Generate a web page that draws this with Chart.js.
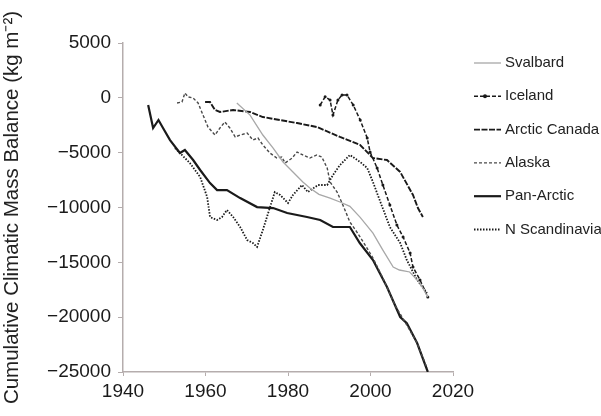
<!DOCTYPE html>
<html>
<head>
<meta charset="utf-8">
<script src="https://cdn.jsdelivr.net/npm/chart.js@4/dist/chart.umd.min.js"></script>
<style>
  html, body { margin: 0; padding: 0; background: #fff; }
  #wrap { width: 601px; height: 416px; }
</style>
</head>
<body>
<div id="wrap"><canvas id="massChart" width="601" height="416"></canvas></div>
<script>
// values (year, cumulative balance in kg m-2)
var seriesNames = ['Svalbard', 'Iceland', 'Arctic Canada', 'Alaska', 'Pan-Arctic', 'N Scandinavia'];
var xTicks = [1940, 1960, 1980, 2000, 2020];
var yTicks = [5000, 0, -5000, -10000, -15000, -20000, -25000];

var svalbardYears = [1967.6, 1970.8, 1973.9, 1976.4, 1978.8, 1981.2, 1983.6, 1985.3, 1987.5, 1990.2, 1992.6, 1995, 1997.5, 2000.6, 2003, 2005.5, 2007, 2009.5, 2012, 2013.9];
var svalbardValues = [-470, -1570, -3390, -4580, -5850, -6760, -7680, -8220, -8800, -9140, -9500, -9900, -10900, -12330, -13880, -15430, -15700, -15880, -16890, -18160];

var icelandYears = [1987.8, 1989, 1990.2, 1990.9, 1992.1, 1993.1, 1994.3, 1995.8, 1997.5, 1999.2, 1999.9, 2001.6, 2003, 2004.7, 2006.4, 2007.9, 2009.6, 2010.3, 2012, 2013.9];
var icelandValues = [-650, 90, -200, -1570, -200, 260, 260, -650, -2020, -3660, -4940, -6400, -7950, -9770, -11600, -12690, -14150, -15430, -16610, -18160];

var canadaYears = [1959.9, 1961.1, 1962.3, 1963.5, 1966.7, 1970.8, 1973.9, 1982.2, 1987, 1992.6, 1997.5, 2000.6, 2004, 2007.2, 2010.3, 2011.5, 2012.7];
var canadaValues = [-380, -380, -1110, -1290, -1110, -1290, -1750, -2300, -2660, -3570, -4300, -5490, -5670, -6760, -8860, -10050, -10870];

var alaskaYears = [1953.1, 1954.3, 1955, 1955.8, 1957, 1958.2, 1959.4, 1960.6, 1962.3, 1963.5, 1964.7, 1965.9, 1967.2, 1968.4, 1970.1, 1971.5, 1972.7, 1973.9, 1975.6, 1977.3, 1978.5, 1979.3, 1981, 1982.2, 1983.6, 1985.3, 1987, 1988.2, 1989.5, 1990.2, 1991.9, 1993.3, 1995, 1996.7, 1998.7, 2000.6, 2003, 2005.9, 2008.8, 2011.3, 2013.7];
var alaskaValues = [-470, -380, 440, 80, -20, -470, -1570, -2660, -3390, -2750, -2200, -2750, -3570, -3390, -3210, -3850, -3660, -4300, -5030, -5490, -5400, -5940, -5490, -4940, -5210, -5490, -5210, -5400, -6400, -7680, -8590, -9770, -11320, -12240, -13420, -14610, -16430, -18890, -20720, -22360, -24640];

var panArcticYears = [1946.1, 1947.3, 1948.6, 1949.7, 1951.4, 1953.8, 1955, 1957, 1958.7, 1961.1, 1962.8, 1965.2, 1968.4, 1972.5, 1976.4, 1979.8, 1984.6, 1987.8, 1990.9, 1995, 1997.4, 2000.6, 2004, 2007.2, 2008.8, 2011.3, 2013.9];
var panArcticValues = [-650, -2750, -2020, -2750, -3850, -5030, -4760, -5670, -6580, -7770, -8410, -8410, -9140, -9960, -10050, -10500, -10870, -11140, -11780, -11780, -13240, -14790, -17250, -19990, -20540, -22360, -25000];

var scandYears = [1952.6, 1953.8, 1956.2, 1958.7, 1960.4, 1961.1, 1962.8, 1964, 1965.2, 1966.7, 1968.4, 1970.1, 1971.5, 1972.5, 1973.9, 1975.2, 1976.8, 1978.1, 1980, 1981.2, 1983.4, 1984.8, 1987.3, 1989.5, 1990.9, 1992.6, 1995, 1997.5, 1999.2, 2000.6, 2002.4, 2004.7, 2007.2, 2008.8, 2011.3, 2013.7];
var scandValues = [-4580, -5030, -5940, -7220, -9040, -10870, -11140, -10870, -10230, -10870, -11780, -12970, -13240, -13600, -12050, -10500, -8590, -8860, -9590, -8860, -7950, -8590, -7950, -7950, -7040, -6130, -5210, -5850, -6400, -7680, -9500, -11780, -13240, -14790, -16610, -17800];

function toPoints(years, values) {
    return years.map(function (yr, i) { return { x: yr, y: values[i] }; });
}

// legend drawn as line samples on the right side
var sideLegend = {
    id: 'sideLegend',
    afterDraw: function (chart) {
        var c = chart.ctx;
        c.save();
        c.font = '15px "Liberation Sans", Arial, sans-serif';
        c.textBaseline = 'middle';
        seriesNames.forEach(function (name, i) {
            var ds = chart.data.datasets.find(function (d) { return d.label === name; });
            var y = 63 + i * 33.3;
            c.strokeStyle = ds.borderColor;
            c.lineWidth = ds.borderWidth;
            c.setLineDash(ds.borderDash || []);
            c.beginPath();
            c.moveTo(474, y);
            c.lineTo(501, y);
            c.stroke();
            if (ds.pointRadius > 0) {
                c.setLineDash([]);
                c.fillStyle = ds.borderColor;
                c.beginPath();
                c.arc(485, y, 2, 0, Math.PI * 2);
                c.fill();
            }
            c.fillStyle = '#222';
            c.fillText(name, 505, y);
        });
        c.restore();
    }
};

var tickFont = { family: '"Liberation Sans", Arial, sans-serif', size: 19 };

var ctx = document.getElementById('massChart').getContext('2d');
var massChart = new Chart(ctx, {
    type: 'line',
    data: {
        datasets: [
            { label: 'Svalbard', data: toPoints(svalbardYears, svalbardValues), borderColor: '#a8a8a8', borderWidth: 1.3, pointRadius: 0 },
            { label: 'Alaska', data: toPoints(alaskaYears, alaskaValues), borderColor: '#4a4a4a', borderWidth: 1.4, borderDash: [3, 2], pointRadius: 0 },
            { label: 'N Scandinavia', data: toPoints(scandYears, scandValues), borderColor: '#1a1a1a', borderWidth: 1.8, borderDash: [1.5, 1.5], pointRadius: 0 },
            { label: 'Arctic Canada', data: toPoints(canadaYears, canadaValues), borderColor: '#1a1a1a', borderWidth: 1.9, borderDash: [6, 1.5], pointRadius: 0 },
            { label: 'Iceland', data: toPoints(icelandYears, icelandValues), borderColor: '#1a1a1a', borderWidth: 1.5, borderDash: [4, 2], pointRadius: 1.5, pointBackgroundColor: '#1a1a1a', pointBorderWidth: 0 },
            { label: 'Pan-Arctic', data: toPoints(panArcticYears, panArcticValues), borderColor: '#1a1a1a', borderWidth: 2.2, pointRadius: 0 }
        ]
    },
    options: {
        responsive: false,
        animation: false,
        layout: { padding: { left: 0, right: 148, top: 43, bottom: 0 } },
        elements: { line: { tension: 0, fill: false } },
        plugins: {
            legend: { display: false },
            tooltip: { enabled: false }
        },
        scales: {
            x: {
                type: 'linear',
                min: 1940,
                max: 2020,
                afterBuildTicks: function (axis) { axis.ticks = xTicks.map(function (v) { return { value: v }; }); },
                afterFit: function (axis) { axis.height = 44; },
                grid: { drawOnChartArea: false, color: '#b5adad', tickLength: 4 },
                border: { color: '#b5adad', width: 1.5 },
                ticks: {
                    color: '#1a1a1a', padding: 4, font: tickFont, maxRotation: 0,
                    callback: function (v) { return String(v); }
                }
            },
            y: {
                min: -25000,
                max: 5000,
                afterBuildTicks: function (axis) { axis.ticks = yTicks.map(function (v) { return { value: v }; }); },
                afterFit: function (axis) { axis.width = 123; },
                grid: { drawOnChartArea: false, color: '#b5adad', tickLength: 5 },
                border: { color: '#b5adad', width: 1.5 },
                ticks: {
                    color: '#1a1a1a', padding: 7, font: tickFont,
                    callback: function (v) { return v < 0 ? '\u2212' + Math.abs(v) : String(v); }
                },
                title: {
                    display: true,
                    text: 'Cumulative Climatic Mass Balance (kg m\u207B\u00B2)',
                    color: '#222',
                    font: { family: '"Liberation Sans", Arial, sans-serif', size: 20.5 },
                    padding: { top: 0, bottom: 0 }
                }
            }
        }
    },
    plugins: [sideLegend]
});
</script>
</body>
</html>
